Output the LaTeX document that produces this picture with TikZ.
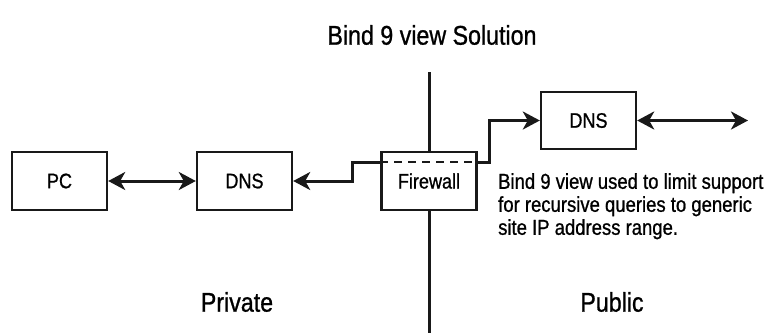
\documentclass[tikz,border=0pt]{standalone}
\usepackage{fontspec}
\setmainfont{Liberation Sans}[FakeStretch=0.86,FakeBold=0.9]
\usetikzlibrary{arrows.meta}

\begin{document}
\begin{tikzpicture}[x=1pt,y=-1pt,
  box/.style={draw=black!90,line width=2.4pt,fill=white,minimum width=95pt,minimum height=58pt,inner sep=0pt,font=\fontsize{21}{23}\selectfont},
  link/.style={draw=black!90,line width=3pt,-{Stealth[length=17pt,width=18pt,inset=5pt]}},
  twolink/.style={link,{Stealth[length=17pt,width=18pt,inset=5pt]}-{Stealth[length=17pt,width=18pt,inset=5pt]}},
  label/.style={inner sep=0pt,font=\fontsize{27}{30}\selectfont}]
\useasboundingbox (0,0) rectangle (771,333);
\node[label] (title) at (432,35) {Bind 9 view Solution};
\coordinate (top) at (429,72);
\coordinate (bottom) at (429,333);
\draw[black!90,line width=3pt] (top) -- (bottom);
\node[box] (pc) at (59.5,181) {PC};
\node[box] (dnsin) at (244.5,181) {DNS};
\node[box] (fw) at (429,181) {Firewall};
\node[box,minimum height=57pt] (dnsout) at (588.5,120.5) {DNS};
\coordinate (far) at (748,120.5);
\coordinate (stepin) at (352,162);
\coordinate (stepout) at (489,162);
\draw[black!90,line width=2.2pt,dash pattern=on 8pt off 6pt] (fw.west |- stepin) -- (fw.east |- stepin);
\draw[twolink] (pc) -- (dnsin);
\draw[link,line join=miter] (fw.west |- stepin) -- (stepin) |- (dnsin.east);
\draw[link,line join=miter] (fw.east |- stepout) -- (stepout) |- (dnsout.west);
\draw[twolink] (dnsout) -- (far);
\node[inner sep=0pt,anchor=north west,align=left,font=\fontsize{21.5}{23}\selectfont] (note) at (498,173)
  {Bind 9 view used to limit support\\for recursive queries to generic\\site IP address range.};
\node[label] (private) at (237,302) {Private};
\node[label] (public) at (612,302) {Public};
\end{tikzpicture}
\end{document}
